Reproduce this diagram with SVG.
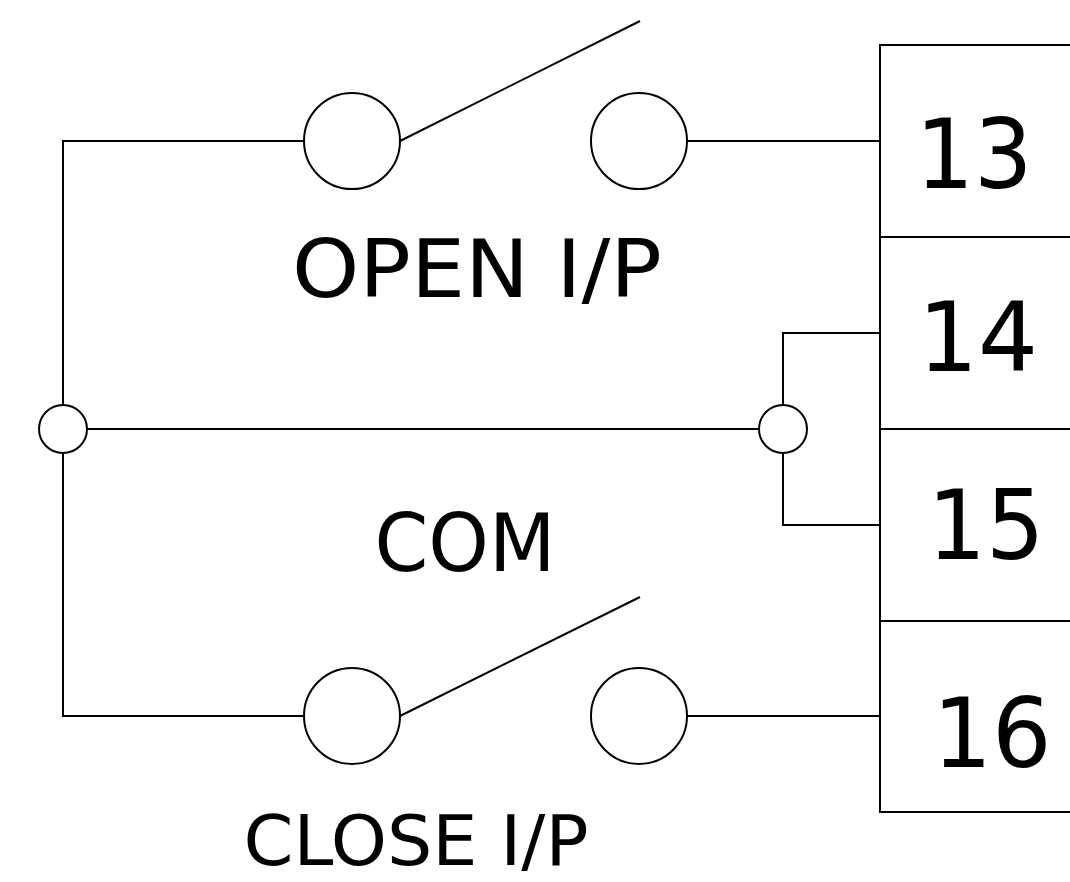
<svg xmlns="http://www.w3.org/2000/svg" width="1070" height="882" viewBox="0 0 1070 882">
<style>
.ln{fill:none;stroke:#000;stroke-width:2}
.c{fill:#fff;stroke:#000;stroke-width:2}
.t{font-family:"DejaVu Sans","Liberation Sans",sans-serif;fill:#000;text-anchor:middle}
.d{font-size:96px}
</style>
<rect width="1070" height="882" fill="#fff"/>
<g id="connectors">
<path class="ln" d="M304,141 H63 V405 M63,453 V716 H304"/>
<path class="ln" d="M687,141 H880"/>
<path class="ln" d="M687,716 H880"/>
<path class="ln" d="M87,429 H759"/>
<path class="ln" d="M880,333 H783 V405 M783,453 V525 H880"/>
</g>
<g id="terminal-block">
<rect class="ln" x="880" y="45" width="260" height="767"/>
<path class="ln" d="M880,237 H1140 M880,429 H1140 M880,621 H1140"/>
</g>
<g id="t13"><text class="t d" x="974" y="188" textLength="117" lengthAdjust="spacingAndGlyphs">13</text></g>
<g id="t14"><text class="t d" x="978" y="371" textLength="120" lengthAdjust="spacingAndGlyphs">14</text></g>
<g id="t15"><text class="t d" x="986" y="559" textLength="117" lengthAdjust="spacingAndGlyphs">15</text></g>
<g id="t16"><text class="t d" x="992" y="767" textLength="119" lengthAdjust="spacingAndGlyphs">16</text></g>
<g id="open-switch">
<circle class="c" cx="352" cy="141" r="48"/>
<circle class="c" cx="639" cy="141" r="48"/>
<line class="ln" x1="400" y1="141" x2="640" y2="21"/>
<text class="t" x="477" y="297" font-size="81" textLength="370" lengthAdjust="spacingAndGlyphs">OPEN I/P</text>
</g>
<g id="close-switch">
<circle class="c" cx="352" cy="716" r="48"/>
<circle class="c" cx="639" cy="716" r="48"/>
<line class="ln" x1="400" y1="716" x2="640" y2="597"/>
<text class="t" x="416" y="865" font-size="69" textLength="345" lengthAdjust="spacingAndGlyphs">CLOSE I/P</text>
</g>
<g id="com">
<circle class="c" cx="63" cy="429" r="24"/>
<circle class="c" cx="783" cy="429" r="24"/>
<text class="t" x="465" y="571" font-size="81" textLength="181" lengthAdjust="spacingAndGlyphs">COM</text>
</g>
</svg>
